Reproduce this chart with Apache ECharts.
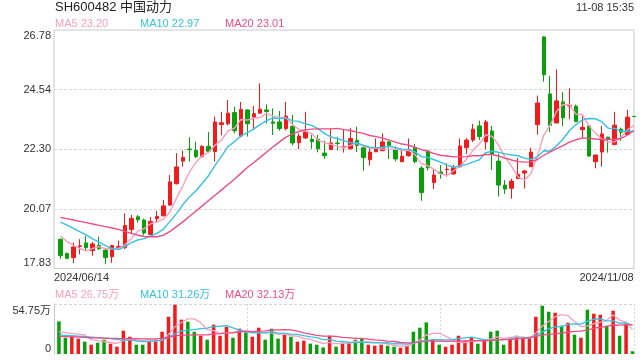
<!DOCTYPE html>
<html><head><meta charset="utf-8">
<script src="https://cdn.jsdelivr.net/npm/echarts@6/dist/echarts.min.js"></script>
<style>html,body{margin:0;padding:0;background:#fff}#c{width:640px;height:360px}</style>
</head><body><div id="c"></div>
<script>
const stockTitle = 'SH600482 中国动力';
const timeStamp = '11-08 15:35';
const xTickLabels = ['2024/06/14', '2024/11/08'];
const yTickLabels = ['17.83', '20.07', '22.30', '24.54', '26.78'];
const volTickLabels = ['0', '54.75万'];

const openP = [18.93,18.39,18.24,18.66,18.79,18.50,18.70,18.52,18.27,18.62,18.61,19.29,19.77,19.65,19.11,19.70,19.81,20.21,21.01,21.86,
22.31,22.26,22.03,22.41,22.22,23.23,23.26,23.68,22.80,23.78,23.51,23.66,23.78,23.33,23.33,23.08,23.16,22.55,22.73,22.68,
22.68,22.16,22.29,22.54,22.36,22.32,22.64,22.36,21.91,22.21,22.25,22.58,22.29,21.84,22.06,22.36,21.60,22.24,21.05,21.45,
21.54,21.38,21.65,22.36,22.65,23.18,22.58,22.99,21.86,20.96,20.84,21.20,21.41,21.65,23.23,26.52,24.38,23.29,24.08,23.93,
23.92,23.04,23.18,21.84,22.20,22.76,22.48,23.06,22.86,23.54];
const closeP = [18.31,18.21,18.64,18.68,18.61,18.75,18.57,18.24,18.69,18.66,19.44,19.71,19.66,19.16,19.60,19.78,20.18,21.08,21.64,22.00,
22.29,22.03,22.41,22.23,23.33,23.30,23.66,23.00,23.80,23.26,23.64,23.81,23.72,23.28,23.08,23.55,22.54,22.80,22.96,22.59,
22.32,22.06,22.54,22.52,22.41,22.71,22.45,21.99,22.20,22.34,22.58,22.45,21.94,22.04,22.28,21.84,20.68,21.61,21.34,21.39,
21.56,21.61,22.43,22.65,23.06,22.78,23.33,22.11,20.96,20.81,21.11,21.36,21.49,22.20,24.04,25.10,23.20,24.12,23.49,23.95,
23.34,23.13,22.05,22.09,22.88,22.68,23.21,22.94,23.51,23.53];
const lowP = [18.19,18.18,18.04,18.36,18.51,18.31,18.53,17.99,18.04,18.56,18.56,19.12,19.55,19.08,19.08,19.55,19.78,20.18,20.99,21.65,
21.84,21.97,21.99,22.19,21.84,22.83,23.20,22.90,22.75,22.78,23.03,23.65,23.28,22.84,23.00,23.01,22.45,22.31,22.70,22.32,
22.19,21.94,22.28,22.26,22.18,22.31,22.20,21.50,21.69,22.20,22.23,21.94,21.85,21.82,22.03,21.78,20.37,21.51,20.81,21.20,
21.28,21.35,21.61,22.13,22.58,22.65,22.30,21.53,20.53,20.63,20.45,21.20,20.83,21.65,22.85,24.84,22.94,23.29,23.17,23.43,
23.33,22.75,22.03,21.59,21.65,22.18,22.46,22.61,22.84,23.53];
const highP = [18.95,18.43,18.81,18.93,19.06,18.83,19.02,18.59,18.72,18.88,19.90,19.84,19.84,19.70,19.76,19.99,20.40,21.34,22.16,22.26,
22.76,22.59,22.46,22.95,23.53,23.71,24.15,23.90,24.08,23.80,23.93,24.78,23.99,23.84,23.74,24.08,23.59,22.90,23.71,22.85,
22.84,22.63,23.09,22.76,23.03,23.11,23.15,22.43,22.38,22.71,22.90,22.62,22.41,22.30,22.71,22.50,21.67,22.28,21.53,21.71,
21.78,21.71,22.71,22.72,23.26,23.38,23.40,23.18,22.14,21.15,21.20,21.98,21.53,22.36,24.32,26.55,25.06,25.30,24.45,24.59,
23.98,23.55,23.24,22.09,23.18,22.77,23.71,23.12,23.78,23.54];
const ma5 = [19.05,18.85,18.70,18.58,18.49,18.58,18.65,18.57,18.57,18.58,18.72,18.95,19.23,19.33,19.51,19.58,19.68,19.96,20.46,20.94,
21.44,21.81,22.07,22.19,22.46,22.66,22.99,23.10,23.42,23.40,23.47,23.50,23.65,23.54,23.51,23.49,23.23,23.05,22.99,22.89,
22.64,22.55,22.49,22.41,22.37,22.45,22.53,22.42,22.35,22.34,22.31,22.31,22.30,22.27,22.26,22.11,21.76,21.69,21.55,21.37,
21.32,21.50,21.67,21.93,22.26,22.51,22.85,22.79,22.45,22.00,21.66,21.27,21.15,21.39,22.04,22.84,23.21,23.73,23.99,23.97,
23.62,23.61,23.19,22.91,22.70,22.57,22.58,22.76,23.04,23.20];
const ma10 = [19.57,19.46,19.34,19.21,19.09,18.94,18.82,18.69,18.58,18.54,18.65,18.80,18.90,18.95,19.05,19.15,19.31,19.60,19.89,20.23,
20.51,20.74,21.02,21.32,21.70,22.05,22.40,22.59,22.81,22.93,23.07,23.24,23.38,23.48,23.46,23.48,23.37,23.35,23.26,23.20,
23.07,22.89,22.77,22.70,22.63,22.55,22.54,22.46,22.38,22.35,22.38,22.42,22.36,22.31,22.30,22.21,22.03,22.00,21.91,21.82,
21.71,21.63,21.68,21.74,21.82,21.91,22.18,22.23,22.19,22.13,22.09,22.06,21.97,21.92,22.02,22.25,22.24,22.44,22.69,23.01,
23.23,23.41,23.46,23.45,23.34,23.09,23.09,22.98,22.98,22.97];
const ma20 = [19.75,19.70,19.65,19.60,19.55,19.50,19.45,19.40,19.35,19.30,19.22,19.15,19.08,19.03,19.02,19.02,19.08,19.22,19.40,19.58,
19.78,19.98,20.18,20.38,20.58,20.78,20.98,21.18,21.40,21.62,21.81,22.00,22.20,22.40,22.58,22.76,22.88,22.97,23.03,23.06,
23.07,23.07,23.07,23.09,23.04,23.01,22.95,22.90,22.82,22.78,22.72,22.65,22.57,22.50,22.46,22.38,22.29,22.23,22.14,22.08,
22.05,22.02,22.02,22.03,22.06,22.06,22.11,22.11,22.05,21.97,21.90,21.84,21.82,21.83,21.92,22.08,22.21,22.33,22.44,22.57,
22.66,22.73,22.71,22.69,22.68,22.67,22.67,22.71,22.84,23.01];
const volume = [35.7,17.8,20.0,16.8,13.5,10.2,12.4,15.7,11.3,8.0,25.5,18.9,10.2,10.2,14.6,15.7,24.4,40.8,54.0,37.6,
35.4,24.4,20.0,15.7,32.1,20.0,29.9,17.8,27.7,24.4,18.9,28.8,15.7,27.7,16.8,21.1,18.9,13.5,14.6,11.3,
10.2,7.2,20.0,8.0,12.4,12.4,15.7,16.8,10.2,9.1,10.2,9.1,8.0,6.9,9.1,24.4,28.8,34.6,15.7,10.2,
8.0,10.2,20.0,14.6,17.8,11.3,14.6,24.4,25.5,10.2,16.8,20.0,18.9,18.9,40.8,52.9,46.3,45.2,31.0,34.3,
21.1,17.8,48.5,44.1,43.0,31.0,47.4,20.0,33.2,3.0];
const volMa5 = [24.5,23.5,22.5,21.7,20.8,15.7,14.6,13.7,12.6,11.5,14.6,15.9,14.8,14.6,15.9,13.9,15.0,21.1,29.9,34.5,
38.4,38.4,34.3,26.6,25.5,22.4,23.5,23.1,25.5,24.0,23.7,23.5,23.1,23.1,21.6,22.0,20.0,19.6,17.0,15.9,
13.7,11.4,12.7,11.3,11.6,12.0,13.7,13.1,13.5,12.8,12.4,11.1,9.3,8.7,8.7,11.5,15.4,20.8,22.5,22.7,
19.5,15.7,12.8,12.6,14.1,14.8,15.7,16.5,18.7,17.2,18.3,19.4,18.3,17.0,23.1,30.3,35.6,40.8,43.2,41.9,
35.6,29.9,30.5,33.2,34.9,36.9,42.8,37.1,34.9,26.75];
const volMa10 = [21.0,20.5,20.0,19.5,19.0,18.5,18.0,17.4,16.8,16.1,15.1,15.2,14.3,13.6,13.7,14.3,15.5,18.0,22.2,25.2,
26.2,26.7,27.7,28.3,30.0,30.4,31.0,28.7,26.1,24.7,23.1,23.5,23.1,24.3,22.8,22.9,21.8,21.4,20.0,18.7,
17.9,15.7,16.1,14.2,13.7,12.9,12.5,12.9,12.4,12.2,12.2,12.4,11.2,11.1,10.8,12.0,13.3,15.0,15.6,15.7,
15.5,15.6,16.8,17.6,18.4,17.1,15.7,14.7,15.7,15.7,16.5,17.5,17.4,17.8,20.1,24.3,27.5,29.6,30.1,32.5,
32.9,32.7,35.7,38.2,38.4,36.2,36.3,33.8,34.0,31.26];
const volMa20 = [19.3,19.0,18.7,18.4,18.1,17.8,17.6,17.4,17.2,17.0,16.9,16.8,16.7,16.6,16.5,16.6,17.2,18.3,19.8,20.7,
20.7,21.0,21.0,20.9,21.9,22.3,23.2,23.3,24.1,25.0,24.6,25.1,25.4,26.3,26.4,26.7,26.4,25.0,23.1,21.7,
20.5,19.6,19.6,19.2,18.2,17.9,17.2,17.1,16.2,15.5,15.0,14.0,13.7,12.6,12.2,12.4,12.9,14.0,14.0,14.0,
13.8,14.0,14.0,14.3,14.6,14.5,14.5,14.9,15.6,15.7,16.0,16.6,17.1,17.7,19.3,20.7,21.6,22.1,22.9,24.1,
24.7,25.1,26.5,28.0,29.3,30.3,31.9,31.7,32.1,32.13];

const UP = '#f01b1b', DOWN = '#0a9f0a';
const C5 = '#f7a1bf', C10 = '#35c2e3', C20 = '#ec4d86';
const FONT = '"Liberation Sans", Arial, "Noto Sans CJK SC", sans-serif';

const n = openP.length;
const cats = ['s0'];
for (let i = 0; i < n; i++) cats.push('s' + (i + 1));
const candles = ['-'], bars = ['-'];
for (let i = 0; i < n; i++) {
  candles.push([openP[i], closeP[i], lowP[i], highP[i]]);
  let up = closeP[i] > openP[i] || (closeP[i] === openP[i] && i > 0 && closeP[i] > closeP[i - 1]);
  bars.push({ value: volume[i], itemStyle: { color: up ? UP : DOWN } });
}
const pad = a => ['-'].concat(a);
const last = a => a[a.length - 1];

const chart = echarts.init(document.getElementById('c'), null, { renderer: 'canvas' });
const lbl = { fontSize: 11, color: '#333', fontFamily: FONT };
const dotted = { color: '#d6d6d6', type: [3, 2], width: 1 };
const ttl = (text, left, top, color, size) => ({ text, left, top, padding: 0,
  textStyle: { fontSize: size || 11, fontWeight: 'normal', color, fontFamily: FONT } });

chart.setOption({
  animation: false,
  backgroundColor: '#fff',
  textStyle: { fontFamily: FONT },
  title: [
    ttl(stockTitle, 55, 1, '#222', 13),
    { text: timeStamp, right: 6, top: 2, padding: 0, textStyle: { fontSize: 11, fontWeight: 'normal', color: '#333', fontFamily: FONT } },
    ttl('MA5 ' + last(ma5).toFixed(2), 55, 18, C5),
    ttl('MA10 ' + last(ma10).toFixed(2), 140, 18, C10),
    ttl('MA20 ' + last(ma20).toFixed(2), 225, 18, C20),
    ttl('MA5 ' + last(volMa5).toFixed(2) + '万', 55, 289, C5),
    ttl('MA10 ' + last(volMa10).toFixed(2) + '万', 140, 289, C10),
    ttl('MA20 ' + last(volMa20).toFixed(2) + '万', 225, 289, C20)
  ],
  grid: [
    { left: 54, top: 30, width: 580, height: 238.5, show: true, borderColor: '#c9c9c9', borderWidth: 1, backgroundColor: 'transparent' },
    { left: 54, top: 304, width: 580, height: 50 },
    { left: 52.5, top: 304, width: 580, height: 50 }
  ],
  xAxis: [
    { type: 'category', gridIndex: 0, data: cats, boundaryGap: false,
      axisLine: { show: false }, axisTick: { show: false }, splitLine: { show: false },
      axisLabel: { show: true, interval: 0, margin: 4, ...lbl,
        formatter: (v, i) => i === 0 ? '{l|' + xTickLabels[0] + '}' : (i === cats.length - 1 ? '{r|' + xTickLabels[1] + '}' : ''),
        rich: { l: { ...lbl, padding: [0, 0, 0, 55] }, r: { ...lbl, padding: [0, 55, 0, 0] } } } },
    { type: 'value', gridIndex: 1, min: 0, max: 3, interval: 1,
      axisLine: { show: false }, axisTick: { show: false }, axisLabel: { show: false },
      splitLine: { show: true, showMinLine: false, lineStyle: { color: '#d6d6d6', type: [2, 2], width: 1 } } },
    { type: 'category', gridIndex: 2, data: cats, boundaryGap: false, show: false }
  ],
  yAxis: [
    { type: 'value', gridIndex: 0, position: 'right', min: parseFloat(yTickLabels[0]), max: parseFloat(yTickLabels[yTickLabels.length - 1]), show: false },
    { type: 'value', gridIndex: 0, position: 'left', min: 0, max: yTickLabels.length - 1, interval: 1,
      axisLine: { show: false }, axisTick: { show: false },
      splitLine: { show: true, showMinLine: false, showMaxLine: false, lineStyle: dotted },
      axisLabel: { margin: 3, ...lbl,
        formatter: v => { const i = Math.round(v); const t = yTickLabels[i];
          return i === 0 ? '{b|' + t + '}' : (i === yTickLabels.length - 1 ? '{t|' + t + '}' : '{m|' + t + '}'); },
        rich: { t: { ...lbl, padding: [12, 0, 0, 0] }, b: { ...lbl, padding: [0, 0, 12, 0] }, m: { ...lbl } } } },
    { type: 'value', gridIndex: 1, position: 'left', min: 0, max: parseFloat(volTickLabels[1]), interval: parseFloat(volTickLabels[1]),
      axisLine: { show: true, lineStyle: { color: '#c9c9c9', width: 1 } }, axisTick: { show: false },
      splitLine: { show: true, showMinLine: false, lineStyle: dotted },
      axisLabel: { margin: 3, ...lbl,
        formatter: v => v === 0 ? '{b|' + volTickLabels[0] + '}' : '{t|' + volTickLabels[1] + '}',
        rich: { t: { ...lbl, padding: [14, 0, 0, 0] }, b: { ...lbl, padding: [0, 0, 10, 0] } } } },
    { type: 'value', gridIndex: 2, min: 0, max: parseFloat(volTickLabels[1]), show: false }
  ],
  series: [
    { type: 'candlestick', xAxisIndex: 0, yAxisIndex: 0, data: candles, barWidth: 4, clip: false,
      itemStyle: { color: UP, color0: DOWN, borderColor: UP, borderColor0: DOWN, borderWidth: 1 } },
    { type: 'line', xAxisIndex: 0, yAxisIndex: 0, data: pad(ma5), showSymbol: false, symbol: 'none', lineStyle: { color: C5, width: 1.4 } },
    { type: 'line', xAxisIndex: 0, yAxisIndex: 0, data: pad(ma10), showSymbol: false, symbol: 'none', lineStyle: { color: C10, width: 1.4 } },
    { type: 'line', xAxisIndex: 0, yAxisIndex: 0, data: pad(ma20), showSymbol: false, symbol: 'none', lineStyle: { color: C20, width: 1.4 } },
    { type: 'bar', xAxisIndex: 2, yAxisIndex: 3, data: bars, barWidth: 3.5 },
    { type: 'line', xAxisIndex: 2, yAxisIndex: 3, data: pad(volMa5), showSymbol: false, symbol: 'none', lineStyle: { color: C5, width: 1.3 } },
    { type: 'line', xAxisIndex: 2, yAxisIndex: 3, data: pad(volMa10), showSymbol: false, symbol: 'none', lineStyle: { color: C10, width: 1.3 } },
    { type: 'line', xAxisIndex: 2, yAxisIndex: 3, data: pad(volMa20), showSymbol: false, symbol: 'none', lineStyle: { color: C20, width: 1.3 } }
  ]
});
</script></body></html>
